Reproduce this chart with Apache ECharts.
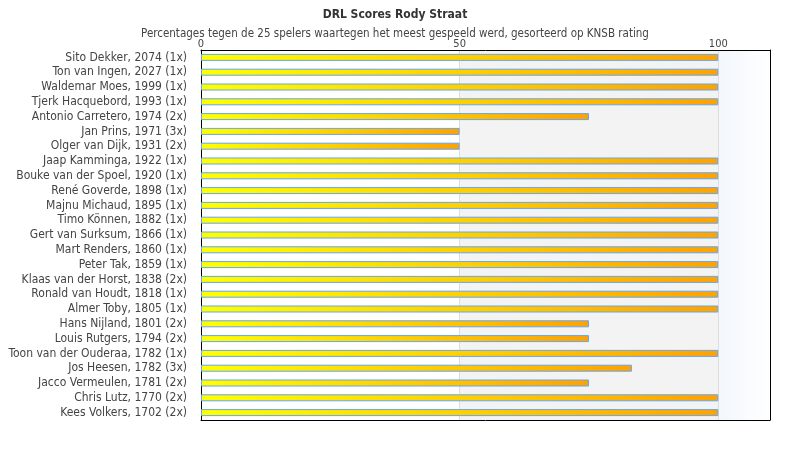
<!DOCTYPE html>
<html>
<head>
<meta charset="utf-8">
<script src="https://cdn.jsdelivr.net/npm/echarts@6/dist/echarts.min.js"></script>
<style>html,body{margin:0;padding:0;background:#fff}#c{width:790px;height:450px}</style>
</head>
<body>
<div id="c"></div>
<script>
var categories = [
  "Sito Dekker, 2074 (1x)",
  "Ton van Ingen, 2027 (1x)",
  "Waldemar Moes, 1999 (1x)",
  "Tjerk Hacquebord, 1993 (1x)",
  "Antonio Carretero, 1974 (2x)",
  "Jan Prins, 1971 (3x)",
  "Olger van Dijk, 1931 (2x)",
  "Jaap Kamminga, 1922 (1x)",
  "Bouke van der Spoel, 1920 (1x)",
  "René Goverde, 1898 (1x)",
  "Majnu Michaud, 1895 (1x)",
  "Timo Können, 1882 (1x)",
  "Gert van Surksum, 1866 (1x)",
  "Mart Renders, 1860 (1x)",
  "Peter Tak, 1859 (1x)",
  "Klaas van der Horst, 1838 (2x)",
  "Ronald van Houdt, 1818 (1x)",
  "Almer Toby, 1805 (1x)",
  "Hans Nijland, 1801 (2x)",
  "Louis Rutgers, 1794 (2x)",
  "Toon van der Ouderaa, 1782 (1x)",
  "Jos Heesen, 1782 (3x)",
  "Jacco Vermeulen, 1781 (2x)",
  "Chris Lutz, 1770 (2x)",
  "Kees Volkers, 1702 (2x)"
];
var percentages = [100, 100, 100, 100, 75, 50, 50, 100, 100, 100, 100, 100, 100, 100, 100, 100, 100, 100, 75, 75, 100, 83.3, 75, 100, 100];
var axisTicks = [0, 50, 100];

var FONT = "'DejaVu Sans Condensed', 'DejaVu Sans', sans-serif";
var blackLine = {show: true, onZero: false, lineStyle: {color: '#000', width: 1}};
var chart = echarts.init(document.getElementById('c'), null, {renderer: 'canvas'});
chart.setOption({
  animation: false,
  backgroundColor: '#ffffff',
  title: {
    text: 'DRL Scores Rody Straat',
    subtext: 'Percentages tegen de 25 spelers waartegen het meest gespeeld werd, gesorteerd op KNSB rating',
    left: 'center',
    top: 4,
    itemGap: 7,
    textStyle: {fontFamily: FONT, fontSize: 12, fontWeight: 'bold', color: '#333'},
    subtextStyle: {fontFamily: FONT, fontSize: 11.5, color: '#444'}
  },
  grid: {
    left: 201, right: 20, top: 50, bottom: 30,
    outerBoundsMode: 'none',
    containLabel: false,
    show: false
  },
  xAxis: [{
    type: 'value',
    position: 'top',
    min: 0, max: 110, interval: 50,
    axisLine: blackLine,
    axisTick: {show: false},
    axisLabel: {
      fontFamily: FONT, fontSize: 11, color: '#444', margin: 0,
      formatter: function (v) { return axisTicks.indexOf(v) >= 0 ? String(v) : ''; }
    },
    splitLine: {show: true, lineStyle: {color: '#dddddd', width: 1}}
  }, {
    type: 'value',
    position: 'bottom',
    min: 0, max: 110, interval: 50,
    axisLine: blackLine,
    axisTick: {show: false},
    axisLabel: {show: false},
    splitLine: {show: false}
  }],
  yAxis: [{
    type: 'category',
    data: categories,
    inverse: true,
    position: 'left',
    axisLine: blackLine,
    axisTick: {show: false},
    axisLabel: {fontFamily: FONT, fontSize: 12, color: '#444', margin: 14, interval: 0, hideOverlap: false},
    splitLine: {show: false}
  }, {
    type: 'category',
    data: categories,
    inverse: true,
    position: 'right',
    axisLine: blackLine,
    axisTick: {show: false},
    axisLabel: {show: false},
    splitLine: {show: false}
  }],
  series: [{
    type: 'bar',
    data: percentages,
    barWidth: 7,
    itemStyle: {
      borderColor: '#62a6f2',
      borderWidth: 1,
      color: new echarts.graphic.LinearGradient(0, 0, 1, 0, [
        {offset: 0, color: '#ffff00'},
        {offset: 1, color: '#ffa200'}
      ])
    },
    markArea: {
      silent: true,
      z: -1,
      data: [
        [{xAxis: 50, itemStyle: {color: '#f3f3f3'}}, {xAxis: 100}],
        [{xAxis: 100, itemStyle: {color: new echarts.graphic.LinearGradient(0, 0, 1, 0, [
          {offset: 0, color: '#f2f7fc'},
          {offset: 1, color: '#ffffff'}
        ])}}, {xAxis: 110}]
      ]
    }
  }]
});
</script>
</body>
</html>
